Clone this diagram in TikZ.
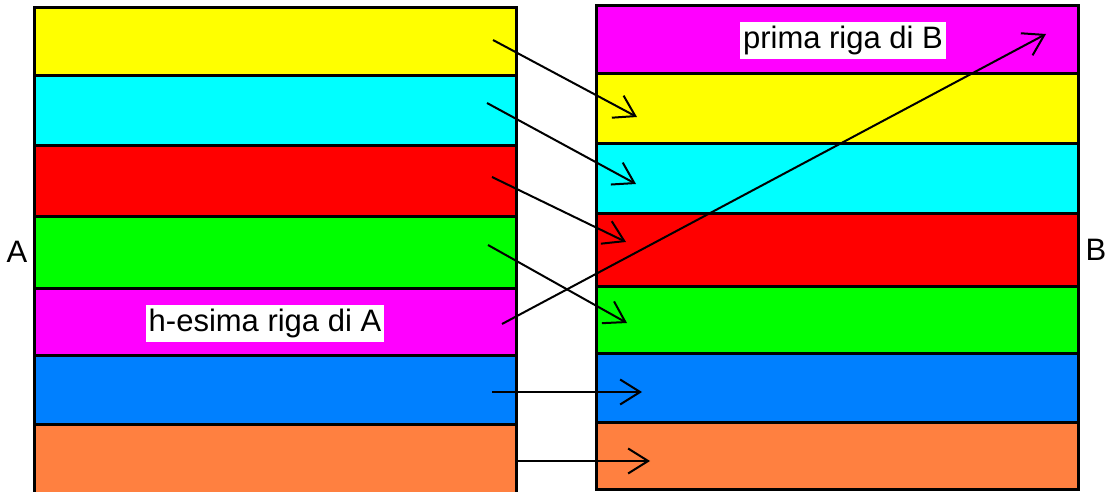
\documentclass[tikz,border=0pt]{standalone}
\usepackage{fontspec}
\setmainfont{Liberation Sans}
\usetikzlibrary{arrows.meta}
\definecolor{cYel}{HTML}{FFFF00}
\definecolor{cCya}{HTML}{00FFFF}
\definecolor{cRed}{HTML}{FF0000}
\definecolor{cGre}{HTML}{00FF00}
\definecolor{cMag}{HTML}{FF00FF}
\definecolor{cBlu}{HTML}{0080FF}
\definecolor{cOra}{HTML}{FF8040}
\tikzset{
  rowL/.style={draw=black, line width=3pt, anchor=north west, minimum width=482pt, inner sep=0pt, outer sep=0pt},
  rowR/.style={rowL, minimum width=482.5pt},
  lab/.style={fill=white, inner xsep=3pt, inner ysep=4pt, text height=22.5pt, text depth=6.5pt, font=\fontsize{31}{31}\selectfont},
  side/.style={inner sep=0pt, font=\fontsize{31}{31}\selectfont},
  arr/.style={line width=2pt, -{Straight Barb[length=20pt,width=25pt]}}
}
\begin{document}
\begin{tikzpicture}[x=1pt,y=-1pt]
\clip (0,0) rectangle (1106,492);
% left block A
\node[rowL, fill=cYel, minimum height=68pt]   (a1) at (34,8) {};
\node[rowL, fill=cCya, minimum height=70pt]   (a2) at (34,76) {};
\node[rowL, fill=cRed, minimum height=70pt]   (a3) at (34,146) {};
\node[rowL, fill=cGre, minimum height=72.5pt] (a4) at (34,216) {};
\node[rowL, fill=cMag, minimum height=66.5pt] (a5) at (34,288.5) {};
\node[rowL, fill=cBlu, minimum height=69pt]   (a6) at (34,355) {};
\node[rowL, fill=cOra, minimum height=76pt]   (a7) at (34,424) {};
% right block B
\node[rowR, fill=cMag, minimum height=68pt]   (b1) at (596,6) {};
\node[rowR, fill=cYel, minimum height=70pt]   (b2) at (596,74) {};
\node[rowR, fill=cCya, minimum height=69pt]   (b3) at (596,144) {};
\node[rowR, fill=cRed, minimum height=73.5pt] (b4) at (596,213) {};
\node[rowR, fill=cGre, minimum height=66.5pt] (b5) at (596,286.5) {};
\node[rowR, fill=cBlu, minimum height=69.5pt] (b6) at (596,353) {};
\node[rowR, fill=cOra, minimum height=66.5pt] (b7) at (596,422.5) {};
% labels
\node[lab] (ha) at (265,323.5) {h-esima riga di A};
\node[lab] (pb) at (843,40.5) {prima riga di B};
\node[side] (lA) at (17,252) {A};
\node[side] (lB) at (1096,250) {B};
% arrow end points
\coordinate (s1) at (493,40);  \coordinate (e1) at (637,117);
\coordinate (s2) at (487,103); \coordinate (e2) at (636,184);
\coordinate (s3) at (492,177); \coordinate (e3) at (626,242);
\coordinate (s4) at (488,245); \coordinate (e4) at (627,323);
\coordinate (s5) at (502,324); \coordinate (e5) at (1046,34);
\coordinate (s6) at (492,392); \coordinate (e6) at (642,392);
\coordinate (s7) at (518,461); \coordinate (e7) at (650,461);
\foreach \i in {1,...,7} { \draw[arr] (s\i) -- (e\i); }
\end{tikzpicture}
\end{document}
